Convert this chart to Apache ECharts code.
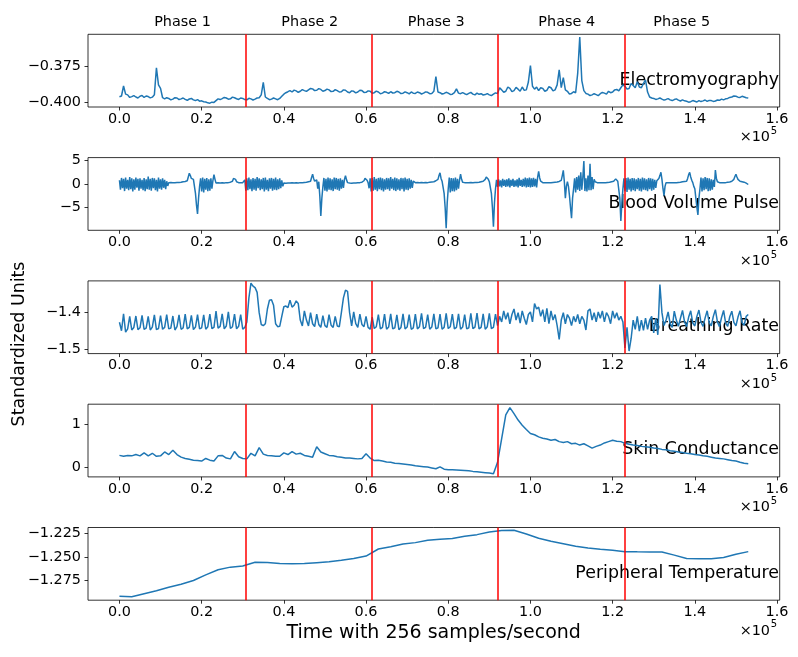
<!DOCTYPE html>
<html><head><meta charset="utf-8">
<script src="https://cdn.jsdelivr.net/npm/echarts@6/dist/echarts.min.js"></script>
<style>html,body{margin:0;padding:0;background:#fff}#c{width:798px;height:657px}</style>
</head><body><div id="c"></div><script>
// ---------------- data ----------------
const phaseLabels = ['Phase 1', 'Phase 2', 'Phase 3', 'Phase 4', 'Phase 5'];
const phaseBoundaries = [30720, 61440, 92160, 122880];
const signalNames = ['Electromyography', 'Blood Volume Pulse', 'Breathing Rate', 'Skin Conductance', 'Peripheral Temperature'];
const xTicks = [0, 20000, 40000, 60000, 80000, 100000, 120000, 140000, 160000];
const yTicks = [[-0.4, -0.375], [-5, 0, 5], [-1.5, -1.4], [0, 1], [-1.275, -1.25, -1.225]];
const yDecimals = [3, 0, 1, 0, 3];
const yRanges = [[-0.4035, -0.3526], [-9.87, 5.64], [-1.511, -1.3138], [-0.218, 1.468], [-1.296, -1.2186]];
const xRange = [-7650, 160650];

const emgStep = 500;
const emg = [
-0.3963,-0.3958,-0.3888,-0.3945,-0.3950,-0.3968,-0.3962,-0.3955,-0.3965,-0.3972,-0.3960,-0.3954,-0.3968,-0.3958,-0.3962,-0.3971,-0.3966,-0.3950,-0.3760,-0.3880,
-0.3905,-0.3970,-0.3978,-0.3970,-0.3975,-0.3985,-0.3980,-0.3970,-0.3972,-0.3983,-0.3978,-0.3972,-0.3982,-0.3988,-0.3979,-0.3975,-0.3985,-0.3990,-0.3983,-0.3994,
-0.3992,-0.3998,-0.4000,-0.4006,-0.4008,-0.4001,-0.4003,-0.3990,-0.3978,-0.3983,-0.3976,-0.3968,-0.3972,-0.3980,-0.3978,-0.3966,-0.3970,-0.3977,-0.3982,-0.3972,
-0.3975,-0.3983,-0.3985,-0.3974,-0.3978,-0.3986,-0.3980,-0.3972,-0.3970,-0.3950,-0.3862,-0.3965,-0.3975,-0.3984,-0.3980,-0.3972,-0.3978,-0.3984,-0.3975,-0.3960,
-0.3945,-0.3935,-0.3928,-0.3920,-0.3930,-0.3917,-0.3922,-0.3932,-0.3925,-0.3913,-0.3920,-0.3926,-0.3915,-0.3905,-0.3908,-0.3920,-0.3918,-0.3906,-0.3912,-0.3925,
-0.3920,-0.3910,-0.3915,-0.3927,-0.3925,-0.3914,-0.3920,-0.3930,-0.3928,-0.3915,-0.3918,-0.3930,-0.3935,-0.3922,-0.3925,-0.3936,-0.3930,-0.3918,-0.3920,-0.3933,
-0.3932,-0.3922,-0.3925,-0.3938,-0.3935,-0.3924,-0.3930,-0.3942,-0.3938,-0.3928,-0.3932,-0.3940,-0.3928,-0.3937,-0.3935,-0.3925,-0.3930,-0.3941,-0.3938,-0.3929,
-0.3935,-0.3943,-0.3930,-0.3938,-0.3940,-0.3930,-0.3935,-0.3944,-0.3938,-0.3929,-0.3932,-0.3942,-0.3940,-0.3925,-0.3822,-0.3930,-0.3935,-0.3944,-0.3940,-0.3932,
-0.3938,-0.3947,-0.3945,-0.3935,-0.3908,-0.3938,-0.3942,-0.3934,-0.3942,-0.3948,-0.3940,-0.3933,-0.3945,-0.3950,-0.3938,-0.3946,-0.3942,-0.3951,-0.3948,-0.3941,
-0.3950,-0.3955,-0.3945,-0.3936,-0.3940,-0.3900,-0.3915,-0.3932,-0.3925,-0.3895,-0.3905,-0.3928,-0.3920,-0.3898,-0.3910,-0.3925,-0.3895,-0.3918,-0.3915,-0.3860,
-0.3745,-0.3890,-0.3910,-0.3895,-0.3920,-0.3900,-0.3905,-0.3925,-0.3918,-0.3893,-0.3900,-0.3922,-0.3915,-0.3880,-0.3775,-0.3900,-0.3830,-0.3915,-0.3925,-0.3945,
-0.3940,-0.3928,-0.3935,-0.3800,-0.3546,-0.3850,-0.3920,-0.3940,-0.3945,-0.3955,-0.3950,-0.3942,-0.3948,-0.3955,-0.3942,-0.3933,-0.3938,-0.3945,-0.3925,-0.3935,
-0.3930,-0.3915,-0.3912,-0.3922,-0.3900,-0.3880,-0.3890,-0.3910,-0.3905,-0.3870,-0.3885,-0.3900,-0.3858,-0.3895,-0.3900,-0.3870,-0.3846,-0.3930,-0.3965,-0.3972,
-0.3975,-0.3982,-0.3978,-0.3972,-0.3980,-0.3987,-0.3982,-0.3976,-0.3985,-0.3990,-0.3983,-0.3978,-0.3987,-0.3993,-0.3985,-0.3992,-0.3995,-0.4001,-0.3998,-0.3990,
-0.3995,-0.4000,-0.3990,-0.3997,-0.3992,-0.3986,-0.3996,-0.3989,-0.3990,-0.3996,-0.3993,-0.3986,-0.3988,-0.3980,-0.3985,-0.3978,-0.3975,-0.3968,-0.3965,-0.3958,
-0.3960,-0.3966,-0.3968,-0.3960,-0.3965,-0.3970,-0.3972];

const bvpStep = 250;
const bvp = [
0.8,-1.2,1.3,-0.9,1.1,-1.5,1.4,-1.0,0.9,-1.3,
1.5,-1.1,1.2,-1.6,1.0,-1.2,1.4,-0.8,1.1,-1.4,
1.2,-1.0,0.9,-1.3,1.3,-1.5,1.0,-1.1,1.6,-1.2,
1.1,-1.4,1.3,-0.9,1.2,-1.3,0.9,-1.6,1.4,-1.0,
1.0,-1.2,1.2,-0.8,0.9,-1.1,0.6,-0.4,
0.3,0.3,0.35,0.3,0.3,0.35,0.3,0.3,0.35,0.3,
0.35,0.4,0.4,0.45,0.5,0.5,0.55,0.6,0.7,0.9,
2.3,1.8,1.2,0.8,1.0,0.6,-2.0,-4.5,-6.4,-3.0,-0.5,
1.2,-1.6,1.4,-1.8,1.1,-1.2,1.3,-1.5,1.0,-1.4,1.2,-1.0,0.8,
2.0,1.0,
0.2,0.2,0.25,0.2,0.2,0.2,0.25,0.2,0.2,0.25,0.3,0.3,0.3,0.35,0.4,0.4,
0.6,1.2,1.6,1.0,0.5,
0.3,0.3,0.3,0.25,0.3,0.3,0.2,
0.9,-1.4,1.2,-1.3,1.4,-1.1,1.0,-1.5,1.3,-1.2,
1.1,-1.4,1.5,-0.9,1.2,-1.3,1.0,-1.1,1.3,-1.6,
1.4,-1.2,0.9,-1.5,1.2,-1.0,1.3,-1.4,1.1,-1.2,
1.4,-1.3,1.0,-1.1,1.2,-0.9,0.8,-0.5,
0.2,0.2,0.15,0.2,0.2,0.25,0.2,0.2,0.25,0.2,
0.2,0.2,0.25,0.2,0.2,0.25,0.3,0.3,0.3,0.35,
0.35,0.4,0.4,0.45,0.5,0.55,
0.6,1.4,2.1,1.2,0.6,0.7,0.9,-1.0,0.5,-2.5,-6.8,-3.0,-0.6,
1.3,-1.4,1.1,-1.6,1.4,-1.2,1.2,-1.3,1.0,-1.5,1.4,-1.1,1.3,-1.2,1.1,-1.4,1.2,-1.0,0.9,-0.8,1.0,
1.8,0.9,
0.3,0.2,0.2,0.2,0.15,0.2,0.2,0.25,0.2,0.2,0.25,0.3,0.3,0.35,0.4,0.5,
0.7,1.2,1.6,0.8,0.3,
-0.9,1.2,-1.6,1.3,-1.4,1.5,-1.2,1.1,-1.5,1.3,
-1.1,1.4,-1.3,1.2,-1.6,1.0,-1.2,1.3,-1.1,1.2,
-1.4,1.5,-1.0,1.1,-1.3,1.4,-1.5,1.2,-1.2,1.0,
-1.4,1.3,-1.1,1.2,-1.6,1.4,-1.2,1.1,-1.3,1.2,
-1.0,0.9,-0.8,0.6,0.4,
0.3,0.3,0.35,0.3,0.3,0.3,0.35,0.3,0.3,0.3,
0.35,0.3,0.3,0.35,0.4,0.4,0.45,0.5,0.5,0.6,
0.7,0.8,
1.0,1.8,2.4,1.2,0.6,0.3,-2.0,-5.0,-9.4,-4.0,-1.0,
1.4,-1.8,1.3,-1.5,1.2,-1.6,1.4,-1.3,1.1,-1.0,0.9,
2.1,1.0,
0.4,0.3,0.3,0.3,0.25,0.3,0.3,0.3,0.35,0.3,
0.3,0.3,0.35,0.3,0.35,0.4,0.4,0.45,0.5,0.5,
0.6,0.8,
1.0,1.5,1.8,1.0,0.5,0.2,-2.0,-5.0,-9.1,-4.0,-1.0,
0.9,-0.6,1.0,-0.5,0.8,-0.7,1.1,-0.4,0.9,-0.6,
1.0,-0.5,1.2,-0.7,0.9,-0.4,1.1,-0.6,0.8,-0.5,
1.0,-0.7,1.3,-0.4,0.9,-0.6,1.1,-0.5,1.4,-0.7,
1.2,-0.6,1.4,-0.7,1.2,-0.6,1.3,-0.5,1.1,-0.7,
1.4,
2.7,1.3,0.6,
0.3,0.3,0.3,0.3,0.35,0.3,0.3,0.3,0.35,0.3,
0.3,0.35,0.3,0.4,0.4,0.45,0.5,0.55,0.6,
0.8,1.8,2.9,0.5,-3.0,-0.5,0.5,-0.5,-2.5,-5.0,-7.3,-3.0,-1.0,
1.2,-1.8,1.5,-1.2,1.8,-1.5,2.5,-1.2,1.4,4.9,
-1.5,1.2,-1.6,1.8,-1.3,4.3,-1.3,1.5,-1.1,1.0,0.5,
0.3,0.3,0.3,0.25,0.3,0.3,0.3,0.3,0.35,0.3,
0.3,0.35,0.4,0.4,0.45,0.5,0.5,0.6,
0.8,1.1,1.4,0.6,0.2,-3.0,-7.9,-4.0,-1.0,
1.2,-1.5,1.3,-1.7,1.4,-1.2,1.1,-1.6,1.3,-1.3,
1.2,-1.5,1.0,-1.1,1.3,-1.4,1.1,-1.6,1.4,-1.2,
1.2,-1.3,1.0,-1.5,1.3,-1.1,1.2,-1.4,1.1,-1.2,
0.9,-0.8,0.7,
0.6,1.2,1.8,2.5,1.0,-1.0,-2.5,-0.5,0.3,
0.3,0.3,0.3,0.3,0.35,0.3,0.3,0.3,0.35,0.3,
0.3,0.35,0.4,0.4,0.45,0.5,0.5,0.55,0.6,
0.6,1.2,2.0,2.5,1.5,0.8,0.3,-0.5,-1.0,-3.0,-5.0,-6.6,-3.0,-1.0,
1.4,-1.6,1.2,-1.3,1.5,-1.1,1.3,-1.5,1.2,-1.4,1.0,-1.2,0.9,-0.6,
3.0,1.2,0.5,
0.3,0.3,0.3,0.3,0.35,0.3,0.3,0.3,0.35,0.4,0.4,0.45,0.5,0.6,0.8,
1.0,1.6,2.1,1.5,1.0,0.8,0.6,0.5,0.5,0.4,0.4,0.3,0.2,0.1,-0.1];

const breathStep = 500;
const breath = [
-1.426,-1.449,-1.403,-1.453,-1.444,-1.410,-1.447,-1.440,-1.409,-1.446,
-1.441,-1.407,-1.445,-1.442,-1.410,-1.447,-1.439,-1.406,-1.446,-1.443,
-1.408,-1.445,-1.440,-1.405,-1.444,-1.442,-1.409,-1.447,-1.438,-1.406,
-1.445,-1.441,-1.404,-1.444,-1.440,-1.407,-1.446,-1.439,-1.405,-1.444,
-1.441,-1.406,-1.445,-1.438,-1.404,-1.443,-1.440,-1.396,-1.442,-1.437,
-1.403,-1.444,-1.436,-1.398,-1.443,-1.438,-1.404,-1.444,-1.437,-1.405,
-1.445,-1.440,-1.425,-1.360,-1.320,-1.328,-1.332,-1.345,-1.400,-1.432,
-1.435,-1.430,-1.390,-1.366,-1.365,-1.380,-1.430,-1.438,-1.437,-1.410,
-1.384,-1.382,-1.386,-1.366,-1.385,-1.380,-1.368,-1.375,-1.420,-1.436,
-1.395,-1.420,-1.436,-1.400,-1.430,-1.438,-1.404,-1.432,-1.440,-1.408,
-1.435,-1.440,-1.405,-1.434,-1.440,-1.410,-1.436,-1.438,-1.400,-1.360,
-1.339,-1.342,-1.400,-1.436,-1.398,-1.430,-1.440,-1.404,-1.432,-1.438,
-1.410,-1.440,-1.445,-1.412,-1.443,-1.438,-1.405,-1.444,-1.440,-1.404,
-1.445,-1.439,-1.403,-1.444,-1.441,-1.406,-1.446,-1.440,-1.403,-1.444,
-1.439,-1.405,-1.445,-1.441,-1.404,-1.444,-1.438,-1.402,-1.443,-1.440,
-1.405,-1.445,-1.439,-1.403,-1.444,-1.441,-1.404,-1.445,-1.440,-1.402,
-1.443,-1.438,-1.404,-1.444,-1.440,-1.403,-1.445,-1.439,-1.405,-1.444,
-1.441,-1.402,-1.443,-1.439,-1.401,-1.444,-1.440,-1.403,-1.445,-1.438,
-1.402,-1.443,-1.440,-1.404,-1.435,-1.410,-1.425,-1.395,-1.418,-1.400,
-1.430,-1.405,-1.390,-1.420,-1.400,-1.428,-1.395,-1.415,-1.432,-1.405,
-1.398,-1.425,-1.375,-1.390,-1.385,-1.410,-1.392,-1.425,-1.388,-1.430,
-1.395,-1.420,-1.405,-1.435,-1.4725,-1.420,-1.400,-1.430,-1.405,-1.415,
-1.435,-1.410,-1.425,-1.405,-1.430,-1.410,-1.420,-1.447,-1.395,-1.390,
-1.420,-1.400,-1.425,-1.398,-1.415,-1.395,-1.425,-1.400,-1.410,-1.430,
-1.395,-1.415,-1.400,-1.420,-1.410,-1.425,-1.4954,-1.440,-1.504,-1.470,
-1.420,-1.445,-1.410,-1.450,-1.420,-1.448,-1.415,-1.445,-1.420,-1.410,
-1.455,-1.415,-1.460,-1.3235,-1.400,-1.435,-1.420,-1.398,-1.430,-1.440,
-1.396,-1.420,-1.437,-1.415,-1.394,-1.425,-1.438,-1.412,-1.395,-1.428,
-1.436,-1.410,-1.393,-1.426,-1.437,-1.414,-1.395,-1.427,-1.436,-1.410,
-1.392,-1.425,-1.438,-1.413,-1.394,-1.428,-1.437,-1.411,-1.396,-1.426,
-1.436,-1.412,-1.395,-1.427,-1.434,-1.410,-1.405];

const skinStep = 1000;
const skin = [
0.281,0.26,0.28,0.27,0.30,0.27,0.34,0.27,0.33,0.26,
0.27,0.36,0.30,0.40,0.30,0.24,0.21,0.19,0.17,0.16,
0.15,0.21,0.17,0.15,0.27,0.28,0.22,0.20,0.37,0.25,
0.21,0.20,0.33,0.27,0.46,0.31,0.28,0.27,0.26,0.26,
0.34,0.30,0.37,0.31,0.33,0.28,0.26,0.24,0.48,0.36,
0.32,0.28,0.27,0.25,0.24,0.22,0.22,0.21,0.20,0.21,
0.32,0.22,0.16,0.17,0.15,0.13,0.12,0.10,0.09,0.08,
0.07,0.06,0.04,0.03,0.02,0.01,-0.01,-0.03,0.016,-0.04,
-0.05,-0.055,-0.06,-0.065,-0.07,-0.078,-0.09,-0.10,-0.11,-0.12,
-0.13,-0.145,0.12,0.67,1.22,1.39,1.25,1.10,0.98,0.88,
0.79,0.76,0.71,0.68,0.66,0.63,0.65,0.60,0.58,0.60,
0.55,0.56,0.52,0.55,0.50,0.45,0.49,0.52,0.57,0.60,
0.63,0.61,0.60,0.56,0.54,0.52,0.51,0.49,0.48,0.47,
0.45,0.44,0.42,0.41,0.39,0.375,0.36,0.35,0.33,0.32,
0.30,0.29,0.27,0.26,0.24,0.22,0.21,0.20,0.18,0.16,
0.15,0.12,0.10,0.086];

const tempStep = 3000;
const temp = [
-1.2917,-1.2924,-1.2892,-1.2860,-1.2822,-1.2790,-1.2750,-1.2690,-1.2636,-1.2608,
-1.2595,-1.2555,-1.2558,-1.2570,-1.2572,-1.2570,-1.2560,-1.2550,-1.2535,-1.2517,
-1.2490,-1.2415,-1.2390,-1.2362,-1.2347,-1.2322,-1.2310,-1.2304,-1.2280,-1.2262,
-1.2235,-1.2218,-1.2215,-1.2255,-1.2300,-1.2332,-1.2358,-1.2385,-1.2405,-1.2418,
-1.2429,-1.2443,-1.2445,-1.2446,-1.2446,-1.2480,-1.2517,-1.2518,-1.2518,-1.2505,
-1.2470,-1.2443];

// ---------------- chart ----------------
const signals = [[emg, emgStep], [bvp, bvpStep], [breath, breathStep], [skin, skinStep], [temp, tempStep]];
const FONT = 'DejaVu Sans';
const gridTops = [34.3, 157.6, 280.9, 404.2, 527.5];
const gridH = 72.7, gridLeft = 88, gridW = 691.7;
const minus = s => s.replace('-', '\u2212');

const grids = [], xAxes = [], yAxes = [], series = [];
signals.forEach((s, i) => {
  grids.push({left: gridLeft, top: gridTops[i], width: gridW, height: gridH, show: true,
    borderColor: '#000', borderWidth: 0.8, containLabel: false, outerBoundsMode: 'none'});
  xAxes.push({type: 'value', gridIndex: i, min: xRange[0], max: xRange[1],
    axisLine: {show: false, onZero: false}, splitLine: {show: false},
    axisTick: {show: true, length: 3.5, lineStyle: {color: '#000', width: 0.8}, customValues: xTicks},
    axisLabel: {customValues: xTicks, margin: 5, fontSize: 14.4, fontFamily: FONT, color: '#000',
      formatter: v => (v / 1e5).toFixed(1)}});
  yAxes.push({type: 'value', gridIndex: i, min: yRanges[i][0], max: yRanges[i][1],
    axisLine: {show: false, onZero: false}, splitLine: {show: false},
    axisTick: {show: true, length: 3.5, lineStyle: {color: '#000', width: 0.8}, customValues: yTicks[i]},
    axisLabel: {customValues: yTicks[i], margin: 7, fontSize: 14.4, fontFamily: FONT, color: '#000',
      formatter: v => minus(v.toFixed(yDecimals[i]))}});
  series.push({type: 'line', xAxisIndex: i, yAxisIndex: i, showSymbol: false, animation: false,
    sampling: 'none',
    data: s[0].map((v, k) => [k * s[1], v]),
    lineStyle: {color: '#1f77b4', width: 1.5}, itemStyle: {color: '#1f77b4'},
    markLine: {silent: true, symbol: ['none', 'none'], animation: false, label: {show: false},
      lineStyle: {color: '#ff0000', width: 1.5, type: 'solid'},
      data: phaseBoundaries.map(b => ({xAxis: b}))}});
});

const graphic = [];
const phaseX = [182.5, 309.7, 436.2, 566.7, 681.7];
phaseLabels.forEach((p, i) => graphic.push({type: 'text', x: phaseX[i], y: 22,
  style: {text: p, fontSize: 14.4, fontFamily: FONT, fill: '#000', align: 'center', verticalAlign: 'middle'}}));
signalNames.forEach((n, i) => {
  const bottom = gridTops[i] + gridH;
  graphic.push({type: 'text', x: 779, y: bottom - 27,
    style: {text: n, fontSize: 17.4, fontFamily: FONT, fill: '#000', align: 'right', verticalAlign: 'middle'}});
  graphic.push({type: 'text', x: 770, y: bottom + 30.7,
    style: {text: '\u00d710', fontSize: 14.4, fontFamily: FONT, fill: '#000', align: 'right', verticalAlign: 'middle'}});
  graphic.push({type: 'text', x: 770.7, y: bottom + 24.7,
    style: {text: '5', fontSize: 10, fontFamily: FONT, fill: '#000', align: 'left', verticalAlign: 'middle'}});
});
graphic.push({type: 'text', x: 433.7, y: 633.5,
  style: {text: 'Time with 256 samples/second', fontSize: 19, fontFamily: FONT, fill: '#000', align: 'center', verticalAlign: 'middle'}});
graphic.push({type: 'text', x: 19, y: 344, rotation: Math.PI / 2,
  style: {text: 'Standardized Units', fontSize: 17.4, fontFamily: FONT, fill: '#000', align: 'center', verticalAlign: 'middle'}});

const chart = echarts.init(document.getElementById('c'), null, {renderer: 'canvas'});
chart.setOption({animation: false, backgroundColor: '#fff', grid: grids, xAxis: xAxes, yAxis: yAxes, series, graphic});
</script></body></html>
